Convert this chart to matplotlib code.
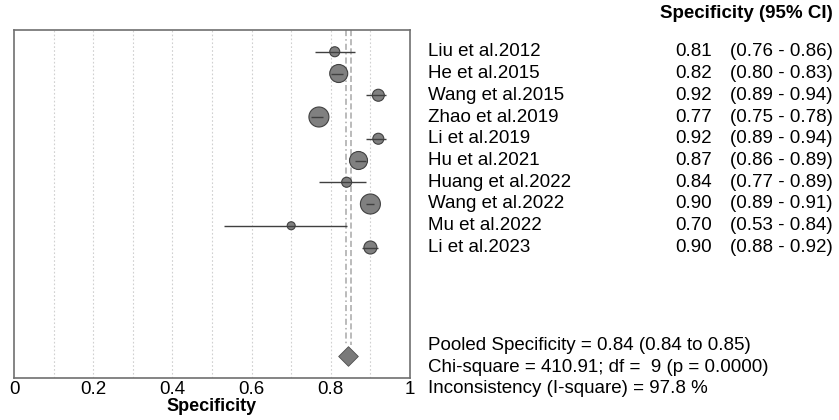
import numpy as np
import matplotlib.pyplot as plt
import matplotlib.transforms as mtrans

plt.rcParams['font.family'] = ['Liberation Sans', 'DejaVu Sans']

studies = ['Liu et al.2012', 'He et al.2015', 'Wang et al.2015', 'Zhao et al.2019',
           'Li et al.2019', 'Hu et al.2021', 'Huang et al.2022', 'Wang et al.2022',
           'Mu et al.2022', 'Li et al.2023']
spec = [0.81, 0.82, 0.92, 0.77, 0.92, 0.87, 0.84, 0.90, 0.70, 0.90]
lo = [0.76, 0.80, 0.89, 0.75, 0.89, 0.86, 0.77, 0.89, 0.53, 0.88]
hi = [0.86, 0.83, 0.94, 0.78, 0.94, 0.89, 0.89, 0.91, 0.84, 0.92]
# relative study weights (marker radius)
weights = [5, 9, 6, 10, 5.5, 9, 5, 10, 4, 6.5]

pooled = 0.844
pooled_lo, pooled_hi = 0.838, 0.851
summary = ['Pooled Specificity = 0.84 (0.84 to 0.85)',
           'Chi-square = 410.91; df =  9 (p = 0.0000)',
           'Inconsistency (I-square) = 97.8 %']
xticks = [0, 0.2, 0.4, 0.6, 0.8, 1]
xticklabels = ['0', '0.2', '0.4', '0.6', '0.8', '1']

fig = plt.figure(figsize=(8.39, 4.2), dpi=100)
ax = fig.add_axes([14 / 839, 42 / 420, 396 / 839, 348 / 420])

y = np.arange(len(studies))
diamond_y = 14

# grid
for g in np.arange(0.1, 1.0, 0.1):
    ax.axvline(g, color='#d0d0d0', lw=0.8, ls=(0, (1.5, 2)), zorder=0)

# pooled lines
ax.vlines(pooled_lo, -1, 13.5, color='#a8a8a8', lw=1.1, ls=(0, (4, 2, 1, 2)), zorder=1)
ax.vlines(pooled_hi, -1, 13.5, color='#a8a8a8', lw=1.1, ls=(0, (4, 2)), zorder=1)

s = [(1.44 * w) ** 2 for w in weights]
ax.scatter(spec, y, s=s, color='#808080', edgecolor='#404040', linewidth=0.8, zorder=3)
ax.hlines(y, lo, hi, color='#404040', lw=1.0, zorder=4)

ax.scatter([pooled], [diamond_y], marker='D', s=100, color='#7a7a7a',
           edgecolor='#505050', linewidth=0.6, zorder=3)

fs = 13.5
ax.set_xlim(0, 1)
ax.set_ylim(15, -1)
ax.set_yticks([])
ax.set_xticks(xticks)
ax.set_xticklabels(xticklabels, fontsize=fs)
ax.tick_params(axis='x', length=0, pad=2)
for sp in ax.spines.values():
    sp.set_color('#707070')
    sp.set_linewidth(1.2)
ax.set_xlabel('Specificity', fontsize=13, fontweight='bold', labelpad=0)

# right text columns
blend = mtrans.blended_transform_factory(fig.transFigure, ax.transData)
fig.text(833 / 839, 1 - 14 / 420, 'Specificity (95% CI)', fontsize=fs, fontweight='bold',
         ha='right', va='center')
for i, name in enumerate(studies):
    ax.text(428 / 839, i, name, transform=blend, fontsize=fs, va='center', ha='left')
    ax.text(712 / 839, i, f'{spec[i]:.2f}', transform=blend, fontsize=fs, va='center', ha='right')
    ax.text(833 / 839, i, f'({lo[i]:.2f} - {hi[i]:.2f})', transform=blend, fontsize=fs,
            va='center', ha='right')
for k, line in enumerate(summary):
    ax.text(428 / 839, 13.5 + k, line, transform=blend, fontsize=fs, va='center', ha='left')

plt.savefig('out.png', dpi=100)
